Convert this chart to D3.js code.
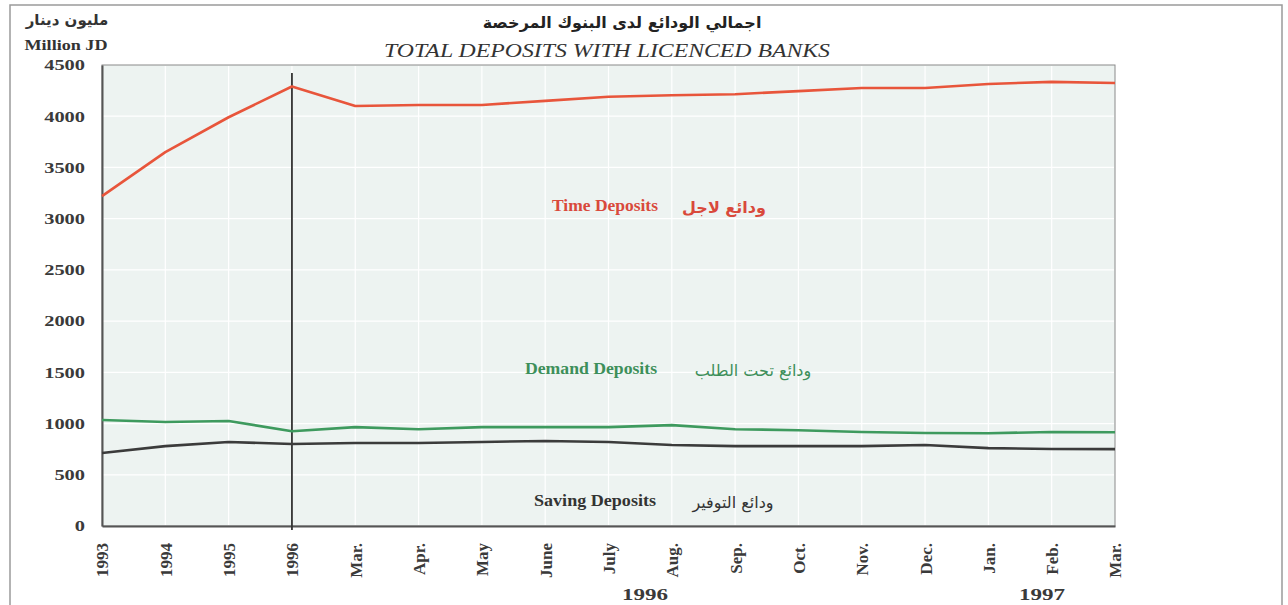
<!DOCTYPE html>
<html>
<head>
<meta charset="utf-8">
<script src="https://cdn.jsdelivr.net/npm/d3@7/dist/d3.min.js"></script>
<style>
  body { margin: 0; background: #ffffff; }
  text { font-family: "Liberation Serif", "DejaVu Serif", serif; }
</style>
</head>
<body>
<script>
// Chart data
const categories = ["1993", "1994", "1995", "1996", "Mar.", "Apr.", "May", "June", "July",
  "Aug.", "Sep.", "Oct.", "Nov.", "Dec.", "Jan.", "Feb.", "Mar. "];
const timeDeposits = [3220, 3650, 3990, 4290, 4100, 4110, 4110, 4150, 4190, 4205, 4215, 4245, 4275, 4275, 4315, 4335, 4325];
const demandDeposits = [1035, 1015, 1025, 925, 965, 945, 965, 965, 965, 985, 945, 935, 918, 908, 905, 918, 915];
const savingDeposits = [713, 780, 820, 800, 810, 810, 820, 830, 820, 790, 780, 780, 780, 790, 760, 752, 750];
const yTicks = [0, 500, 1000, 1500, 2000, 2500, 3000, 3500, 4000, 4500];

const WIDTH = 1288;
const HEIGHT = 605;
const margin = { left: 102, right: 1115, top: 65, bottom: 526 };

const svg = d3.select("body").append("svg")
  .attr("width", WIDTH)
  .attr("height", HEIGHT);

// outer frame
svg.append("rect")
  .attr("x", 10).attr("y", 5)
  .attr("width", 1272).attr("height", 610)
  .attr("fill", "none")
  .attr("stroke", "#9a9a9a")
  .attr("stroke-width", 1.5);

const x = d3.scalePoint()
  .domain(categories)
  .range([margin.left, margin.right]);

const y = d3.scaleLinear()
  .domain([0, 4500])
  .range([margin.bottom, margin.top]);

// plot background
svg.append("rect")
  .attr("x", margin.left).attr("y", margin.top)
  .attr("width", margin.right - margin.left)
  .attr("height", margin.bottom - margin.top)
  .attr("fill", "#edf3f1")
  .attr("stroke", "#8a8a8a")
  .attr("stroke-width", 1);

// grid lines
const grid = svg.append("g").attr("stroke", "#ffffff").attr("stroke-width", 1.2);
grid.selectAll(".gx").data(categories.slice(1, -1)).enter().append("line")
  .attr("x1", d => x(d)).attr("x2", d => x(d))
  .attr("y1", margin.top + 1).attr("y2", margin.bottom - 1);
grid.selectAll(".gy").data(yTicks.slice(1, -1)).enter().append("line")
  .attr("x1", margin.left + 1).attr("x2", margin.right - 1)
  .attr("y1", d => y(d)).attr("y2", d => y(d));

// y axis
const yAxis = svg.append("g")
  .attr("transform", `translate(${margin.left},0)`)
  .call(d3.axisLeft(y).tickValues(yTicks).tickFormat(d3.format("d")).tickSize(0).tickPadding(17));
yAxis.select(".domain").attr("stroke", "#555").attr("stroke-width", 2);
yAxis.selectAll("text")
  .attr("font-size", 15)
  .attr("font-weight", "bold")
  .attr("fill", "#3a3a3a")
  .style("font-family", "Liberation Serif, serif")
  .attr("textLength", d => String(d).length * 10.2)
  .attr("lengthAdjust", "spacingAndGlyphs");

// x axis
const xAxis = svg.append("g")
  .attr("transform", `translate(0,${margin.bottom})`)
  .call(d3.axisBottom(x).tickSize(0).tickPadding(0));
xAxis.select(".domain").attr("stroke", "#555").attr("stroke-width", 2);
xAxis.selectAll("text")
  .attr("font-size", 17)
  .attr("font-weight", "bold")
  .attr("fill", "#3a3a3a")
  .style("font-family", "Liberation Serif, serif")
  .attr("text-anchor", "end")
  .attr("transform", "rotate(-90)")
  .attr("x", -17)
  .attr("y", 0)
  .attr("dy", "0.35em")
  .text(d => d.trim());

// vertical separator at 1996
svg.append("line")
  .attr("x1", x("1996")).attr("x2", x("1996"))
  .attr("y1", 73).attr("y2", margin.bottom + 4)
  .attr("stroke", "#333")
  .attr("stroke-width", 1.8);

// series lines
const line = d3.line()
  .x((d, i) => x(categories[i]))
  .y(d => y(d));

const series = [
  { values: timeDeposits, color: "#e8553b" },
  { values: demandDeposits, color: "#3e9a5e" },
  { values: savingDeposits, color: "#3b3b3b" }
];
svg.selectAll(".series").data(series).enter().append("path")
  .attr("d", d => line(d.values))
  .attr("fill", "none")
  .attr("stroke", d => d.color)
  .attr("stroke-width", 2.6)
  .attr("stroke-linejoin", "round");

// series labels
const labels = [
  { en: "Time Deposits", ar: "ودائع لاجل", color: "#d9493b", ex: 605, ew: 106, ax: 724, y: 211, arBold: true },
  { en: "Demand Deposits", ar: "ودائع تحت الطلب", color: "#3d8f5a", ex: 591, ew: 132, ax: 753, y: 374, arBold: false },
  { en: "Saving Deposits", ar: "ودائع التوفير", color: "#333", ex: 595, ew: 122, ax: 733, y: 506, arBold: false }
];
labels.forEach(l => {
  svg.append("text")
    .attr("x", l.ex).attr("y", l.y)
    .attr("text-anchor", "middle")
    .attr("font-size", 16).attr("font-weight", "bold")
    .attr("fill", l.color)
    .attr("textLength", l.ew)
    .attr("lengthAdjust", "spacingAndGlyphs")
    .text(l.en);
  svg.append("text")
    .attr("x", l.ax).attr("y", l.y + 2)
    .attr("text-anchor", "middle")
    .attr("font-size", 16)
    .attr("font-weight", l.arBold ? "bold" : "normal")
    .attr("fill", l.color)
    .style("font-family", "DejaVu Sans, sans-serif")
    .attr("direction", "rtl")
    .text(l.ar);
});

// titles
svg.append("text")
  .attr("x", 622).attr("y", 28)
  .attr("text-anchor", "middle")
  .attr("font-size", 16).attr("font-weight", "bold")
  .attr("fill", "#222")
  .style("font-family", "DejaVu Sans, sans-serif")
  .attr("direction", "rtl")
  .text("اجمالي الودائع لدى البنوك المرخصة");
svg.append("text")
  .attr("x", 607).attr("y", 57)
  .attr("text-anchor", "middle")
  .attr("font-size", 18).attr("font-style", "italic")
  .attr("fill", "#333")
  .attr("textLength", 446)
  .attr("lengthAdjust", "spacingAndGlyphs")
  .text("TOTAL DEPOSITS WITH LICENCED BANKS");

// unit labels
svg.append("text")
  .attr("x", 67).attr("y", 25)
  .attr("text-anchor", "middle")
  .attr("font-size", 15).attr("font-weight", "bold")
  .attr("fill", "#333")
  .style("font-family", "DejaVu Sans, sans-serif")
  .attr("direction", "rtl")
  .text("مليون دينار");
svg.append("text")
  .attr("x", 66).attr("y", 50)
  .attr("text-anchor", "middle")
  .attr("font-size", 15).attr("font-weight", "bold")
  .attr("fill", "#333")
  .attr("textLength", 83)
  .attr("lengthAdjust", "spacingAndGlyphs")
  .text("Million JD");

// year group labels
[["1996", 645], ["1997", 1042]].forEach(([t, cx]) => {
  svg.append("text")
    .attr("x", cx).attr("y", 600)
    .attr("text-anchor", "middle")
    .attr("font-size", 16).attr("font-weight", "bold")
    .attr("fill", "#3a3a3a")
    .attr("textLength", 46)
    .attr("lengthAdjust", "spacingAndGlyphs")
    .text(t);
});
</script>
</body>
</html>
